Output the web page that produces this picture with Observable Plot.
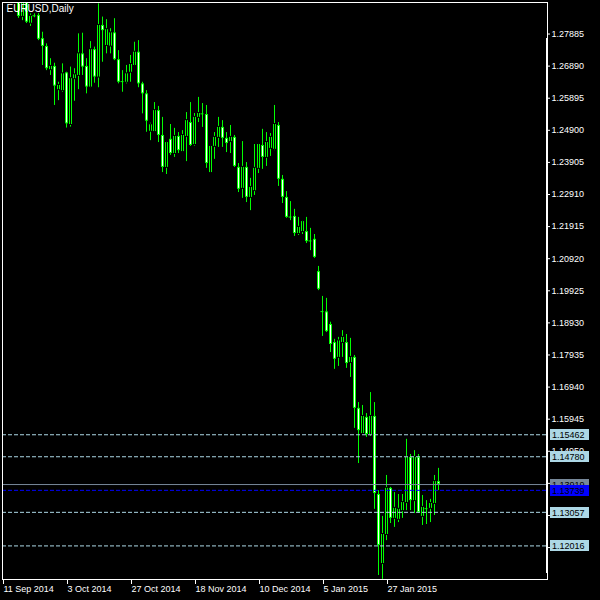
<!DOCTYPE html>
<html><head><meta charset="utf-8">
<script src="https://cdn.jsdelivr.net/npm/d3@7"></script>
<script src="https://cdn.jsdelivr.net/npm/@observablehq/plot@0.6"></script>
<style>
html,body{margin:0;padding:0;background:#000;}
#chart{width:600px;height:600px;overflow:hidden;}
</style></head><body><div id="chart"></div>
<script>
const symbolTitle = "EURUSD,Daily";
const firstBar = 4; // bars 0-3 lie above the visible price range
const open = [
1.2954,1.2843,1.2908,1.2822,1.2846,1.2846,1.2774,1.2750,1.2678,1.2688,
1.2616,1.2613,1.2668,1.2508,1.2650,1.2660,1.2727,1.2688,1.2624,1.2740,
1.2655,1.2815,1.2753,1.2751,1.2792,1.2709,1.2642,1.2639,1.2670,1.2691,
1.2732,1.2634,1.2603,1.2487,1.2486,1.2551,1.2474,1.2375,1.2462,1.2418,
1.2471,1.2424,1.2471,1.2514,1.2446,1.2530,1.2542,1.2539,1.2359,1.2440,
1.2468,1.2499,1.2465,1.2455,1.2468,1.2375,1.2310,1.2375,1.2282,1.2303,
1.2372,1.2443,1.2406,1.2434,1.2431,1.2505,1.2338,1.2282,1.2223,1.2223,
1.2170,1.2176,1.2176,1.2148,1.2152,1.2052,1.1930,1.1927,1.1888,1.1832,
1.1786,1.1832,1.1832,1.1770,1.1786,1.1628,1.1550,1.1600,1.1547,1.1603,
1.1361,1.1147,1.1237,1.1380,1.1287,1.1284,1.1311,1.1336,1.1476,1.1342,
1.1476,1.1293,1.1318,1.1318,1.1333,1.1401];
const high = [
1.2961,1.2954,1.2917,1.2851,1.2851,1.2852,1.2794,1.2758,1.2712,1.2698,
1.2639,1.2696,1.2670,1.2686,1.2681,1.2789,1.2791,1.2712,1.2765,1.2748,
1.2882,1.2841,1.2833,1.2805,1.2836,1.2737,1.2675,1.2691,1.2722,1.2763,
1.2768,1.2639,1.2613,1.2512,1.2576,1.2564,1.2530,1.2455,1.2508,1.2496,
1.2483,1.2489,1.2545,1.2576,1.2542,1.2592,1.2573,1.2567,1.2443,1.2483,
1.2530,1.2520,1.2483,1.2505,1.2474,1.2387,1.2455,1.2390,1.2341,1.2446,
1.2449,1.2493,1.2483,1.2480,1.2567,1.2514,1.2350,1.2300,1.2269,1.2245,
1.2220,1.2210,1.2220,1.2186,1.2167,1.2068,1.1975,1.1969,1.1895,1.1842,
1.1848,1.1869,1.1857,1.1845,1.1792,1.1646,1.1637,1.1612,1.1677,1.1646,
1.1373,1.1293,1.1420,1.1383,1.1367,1.1361,1.1361,1.1532,1.1485,1.1497,
1.1485,1.1358,1.1342,1.1346,1.1420,1.1442];
const low = [
1.2837,1.2830,1.2821,1.2812,1.2839,1.2768,1.2691,1.2675,1.2660,1.2567,
1.2582,1.2608,1.2497,1.2500,1.2580,1.2616,1.2660,1.2603,1.2622,1.2636,
1.2622,1.2701,1.2727,1.2727,1.2706,1.2634,1.2608,1.2634,1.2639,1.2689,
1.2622,1.2541,1.2484,1.2458,1.2483,1.2452,1.2359,1.2353,1.2412,1.2406,
1.2418,1.2421,1.2393,1.2440,1.2441,1.2514,1.2499,1.2372,1.2358,1.2400,
1.2437,1.2437,1.2421,1.2418,1.2375,1.2297,1.2279,1.2266,1.2241,1.2288,
1.2356,1.2369,1.2378,1.2409,1.2427,1.2316,1.2263,1.2217,1.2210,1.2161,
1.2164,1.2167,1.2139,1.2117,1.2093,1.1993,1.1851,1.1863,1.1801,1.1749,
1.1758,1.1786,1.1752,1.1724,1.1566,1.1457,1.1547,1.1538,1.1541,1.1315,
1.1110,1.1098,1.1218,1.1271,1.1259,1.1274,1.1287,1.1311,1.1311,1.1302,
1.1302,1.1265,1.1268,1.1274,1.1296,1.1373];
const close = [
1.2843,1.2908,1.2825,1.2843,1.2845,1.2772,1.2750,1.2681,1.2688,1.2627,
1.2629,1.2665,1.2510,1.2650,1.2662,1.2727,1.2686,1.2624,1.2740,1.2655,
1.2815,1.2799,1.2802,1.2792,1.2709,1.2639,1.2641,1.2665,1.2694,1.2732,
1.2634,1.2603,1.2518,1.2507,1.2551,1.2474,1.2375,1.2452,1.2418,1.2471,
1.2427,1.2474,1.2520,1.2443,1.2530,1.2542,1.2541,1.2387,1.2440,1.2468,
1.2499,1.2465,1.2449,1.2468,1.2378,1.2307,1.2375,1.2282,1.2313,1.2372,
1.2446,1.2406,1.2452,1.2468,1.2508,1.2338,1.2282,1.2220,1.2221,1.2170,
1.2189,1.2207,1.2145,1.2147,1.2096,1.1997,1.1928,1.1866,1.1826,1.1780,
1.1837,1.1848,1.1767,1.1786,1.1628,1.1559,1.1603,1.1547,1.1603,1.1364,
1.1203,1.1237,1.1380,1.1287,1.1318,1.1315,1.1336,1.1476,1.1342,1.1476,
1.1305,1.1321,1.1317,1.1333,1.1401,1.13919];

const xTickIndex = [0,16,32,48,64,80,96];
const xTickLabels = ["11 Sep 2014","3 Oct 2014","27 Oct 2014","18 Nov 2014","10 Dec 2014","5 Jan 2015","27 Jan 2015"];
const yTicks = [1.27885,1.26890,1.25895,1.24900,1.23905,1.22910,1.21915,1.20920,1.19925,1.18930,1.17935,1.16940,1.15945,1.14950,1.13955,1.12960,1.11965];
const levelLines = [1.15462,1.14780,1.13057,1.12016];
const bidLine = 1.13919;
const askLine = 1.13739;

const bars = open.map((o,k)=>({i:k+firstBar, o, h:high[k], l:low[k], c:close[k]}));
const bodies = bars.filter(d => Math.abs(d.o - d.c) >= 0.0002);
const dojis = bars.filter(d => Math.abs(d.o - d.c) < 0.0002);
const lime = "#00ff00";
const font = "'Liberation Sans', Arial, sans-serif";

const chart = Plot.plot({
  width: 600, height: 600,
  marginLeft: 2, marginRight: 53, marginTop: 2, marginBottom: 21,
  style: {background: "black", color: "white", fontFamily: font, fontSize: "9px", overflow: "visible"},
  x: {domain: [0, 136.25], axis: null, label: null},
  y: {domain: [1.10975, 1.28862], axis: null, label: null},
  marks: [
    // wicks
    Plot.ruleX(bars, {x: "i", y1: "l", y2: "h", stroke: lime, clip: true}),
    // body outline (3 px wide)
    Plot.ruleX(bodies, {x: "i", y1: "o", y2: "c", stroke: lime, strokeWidth: 3, strokeLinecap: "butt", clip: true}),
    // body interior: white for falling bars, black for rising bars
    Plot.ruleX(bodies, {x: "i", y1: "o", y2: "c", stroke: d => d.c < d.o ? "white" : "black",
      strokeWidth: 1, insetTop: 1, insetBottom: 1, clip: true}),
    Plot.ruleY(dojis, {x1: d => d.i - 0.375, x2: d => d.i + 0.375, y: "c", stroke: lime, clip: true}),
    Plot.ruleY(levelLines, {stroke: "#ADD8E6", strokeDasharray: "4,2"}),
    Plot.ruleY([bidLine], {stroke: "#778899"}),
    Plot.ruleY([askLine], {stroke: "#0000ff", strokeDasharray: "4,2"}),
    Plot.frame({stroke: "white"}),
    Plot.axisY({anchor: "right", ticks: yTicks, tickSize: 2, tickPadding: 2, label: null,
      tickFormat: d => d.toFixed(5), fill: "white", stroke: "white", fontSize: 9}),
    Plot.axisX({anchor: "bottom", ticks: xTickIndex, tickSize: 5, tickPadding: 1, label: null,
      tickFormat: d => xTickLabels[xTickIndex.indexOf(d)], textAnchor: "start", dx: 1,
      fill: "white", stroke: "white", fontSize: 9}),
    Plot.text([symbolTitle], {frameAnchor: "top-left", dx: 4, dy: 2, lineAnchor: "top",
      textAnchor: "start", fill: "white", fontSize: 10})
  ]
});
document.getElementById("chart").appendChild(chart);

// price tags on the right-hand scale
const ys = chart.scale("y");
const svg = d3.select(chart);
// thick part of the price-scale border
svg.append("rect").attr("x", 546).attr("y", 38).attr("width", 2).attr("height", 535).attr("fill", "white");
const tagG = svg.append("g").attr("text-anchor", "start");
const tags = levelLines.map(p => ({p, fill: "#ADD8E6", text: "black"}))
  .concat([{p: bidLine, fill: "#778899", text: "black"}, {p: askLine, fill: "#0000ff", text: "black"}]);
for (const t of tags) {
  const y = Math.round(ys.apply(t.p)) + 0.5;
  tagG.append("rect").attr("x", 550).attr("y", y - 5.5).attr("width", 39).attr("height", 11).attr("fill", t.fill);
  tagG.append("text").attr("x", 552).attr("y", y).attr("dy", "0.35em").attr("text-anchor", "start")
    .attr("fill", t.text).attr("font-size", 9).attr("font-family", font).text(t.p.toFixed(5));
}
</script></body></html>
